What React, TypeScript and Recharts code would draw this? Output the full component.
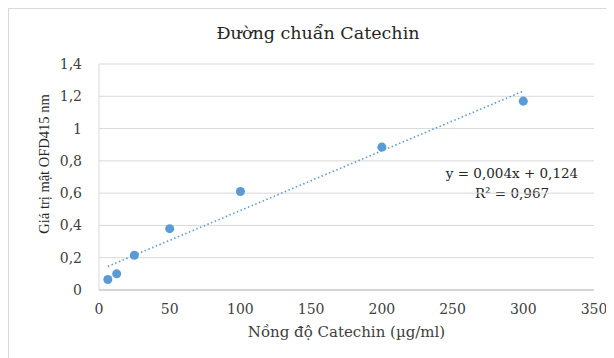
import React from 'react';
import {
  ScatterChart, Scatter, XAxis, YAxis, CartesianGrid, ReferenceLine,
} from 'recharts';

// Nồng độ Catechin (µg/ml) và giá trị OD đo được
const concentrations = [6.25, 12.5, 25, 50, 100, 200, 300];
const absorbances = [0.065, 0.1, 0.215, 0.38, 0.61, 0.885, 1.17];

const xTicks = [0, 50, 100, 150, 200, 250, 300, 350];
const yTicks = [0, 0.2, 0.4, 0.6, 0.8, 1, 1.2, 1.4];

const FONT = '"DejaVu Serif", serif';
const TEXT = '#404040';
const BLUE = '#5b9bd5';

const points = concentrations.map((x, i) => ({ x, y: absorbances[i] }));

// linear trendline (least squares) through the points
function fit() {
  const n = points.length;
  const mx = points.reduce((s, p) => s + p.x, 0) / n;
  const my = points.reduce((s, p) => s + p.y, 0) / n;
  let sxy = 0;
  let sxx = 0;
  points.forEach((p) => {
    sxy += (p.x - mx) * (p.y - my);
    sxx += (p.x - mx) * (p.x - mx);
  });
  const slope = sxy / sxx;
  return { slope, intercept: my - slope * mx };
}

const { slope, intercept } = fit();
const xMin = concentrations[0];
const xMax = concentrations[concentrations.length - 1];
const trend = [
  { x: xMin, y: slope * xMin + intercept },
  { x: xMax, y: slope * xMax + intercept },
];

const comma = (v: number) => String(v).replace('.', ',');

export default function App() {
  return (
    <div style={{ position: 'relative', width: 606, height: 350, borderLeft: '1px solid #d9d9d9', borderTop: '1px solid #d9d9d9', boxSizing: 'border-box' }}>
      <div style={{ position: 'absolute', left: 0, width: 618, top: 14, textAlign: 'center', fontFamily: FONT, fontSize: 17.5, color: '#262626' }}>
        Đường chuẩn Catechin
      </div>
      <div style={{ position: 'absolute', left: 423, width: 160, top: 154, textAlign: 'center', fontFamily: FONT, fontSize: 13.5, color: '#262626', lineHeight: '20px', whiteSpace: 'nowrap' }}>
        <div>y = 0,004x + 0,124</div>
        <div>R² = 0,967</div>
      </div>
      <ScatterChart width={606} height={350} margin={{ top: 55, right: 21, bottom: 19, left: 0 }}>
        <CartesianGrid vertical={false} stroke="#d9d9d9" />
        <XAxis
          type="number"
          dataKey="x"
          domain={[0, 350]}
          ticks={xTicks}
          height={50}
          stroke="#bfbfbf"
          tickLine={false}
          tickSize={0}
          tickMargin={14}
          tick={{ fill: TEXT, fontSize: 14, fontFamily: FONT }}
          label={{
            content: ({ viewBox }: any) => (
              <text x={viewBox.x + viewBox.width / 2} y={viewBox.y + 47} textAnchor="middle" fill={TEXT} fontFamily={FONT} fontSize={15}>
                Nồng độ Catechin (µg/ml)
              </text>
            ),
          }}
        />
        <YAxis
          type="number"
          dataKey="y"
          domain={[0, 1.4]}
          ticks={yTicks}
          width={90}
          stroke="#d9d9d9"
          tickLine={false}
          tickSize={0}
          tickMargin={17}
          tickFormatter={comma}
          tick={{ fill: TEXT, fontSize: 14, fontFamily: FONT }}
          label={{
            content: ({ viewBox }: any) => {
              const cx = viewBox.x + 37;
              const cy = viewBox.y + viewBox.height / 2 - 13;
              return (
                <text x={cx} y={cy} transform={`rotate(-90, ${cx}, ${cy})`} textAnchor="middle" dominantBaseline="middle" fill="#262626" fontFamily='"Liberation Serif", serif' fontSize={14.5}>
                  Giá trị mật OFD415 nm
                </text>
              );
            },
          }}
        />
        <ReferenceLine segment={trend} stroke={BLUE} strokeWidth={1.6} strokeDasharray="1.5 2.5" ifOverflow="visible" />
        <Scatter data={points} fill={BLUE} isAnimationActive={false} />
      </ScatterChart>
    </div>
  );
}
